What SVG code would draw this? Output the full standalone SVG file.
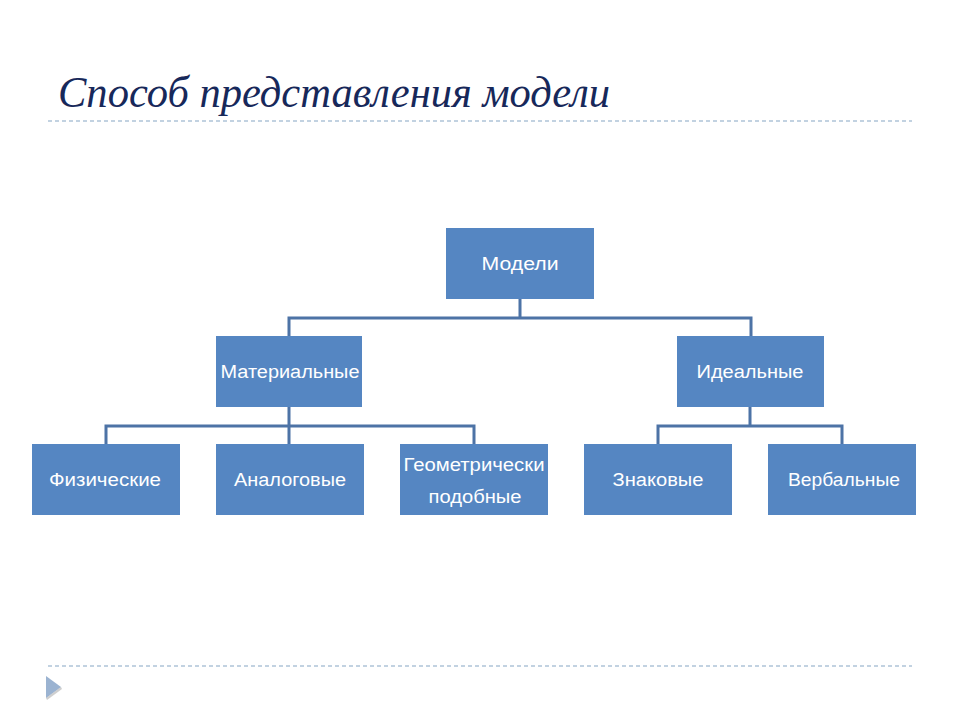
<svg xmlns="http://www.w3.org/2000/svg" width="960" height="720" viewBox="0 0 960 720">
<style>
.title{font-family:"Liberation Serif","DejaVu Serif",serif;font-style:italic;font-size:44px;fill:#17285A}
.box{fill:#5586C2}
.lbl{font-family:"Liberation Sans","DejaVu Sans",sans-serif;font-size:18px;fill:#FFFFFF;text-anchor:middle}
.dash{stroke:#AFC3D8;stroke-width:1.5;stroke-dasharray:4 3;fill:none}
.conn{stroke:#4D73A6;stroke-width:3;fill:none}
</style>
<rect width="960" height="720" fill="#FFFFFF"/>
<text class="title" x="58" y="107" textLength="552" lengthAdjust="spacingAndGlyphs">Способ представления модели</text>
<line class="dash" x1="48" y1="121" x2="912" y2="121"/>
<line class="dash" x1="48" y1="666" x2="912" y2="666"/>
<polygon points="46,676 61,687 46,698" fill="#9BB3D1"/>
<polyline points="46,698 61,687 62,689 47,700" fill="#A0A0A0" opacity="0.5"/>
<g id="connectors">
<path class="conn" d="M520,299 V318 M289,336 V318 H751 V336"/>
<path class="conn" d="M289,407 V444 M106,444 V426 H474 V444"/>
<path class="conn" d="M750,407 V426 M658,444 V426 H842 V444"/>
</g>
<g id="n-modeli"><rect class="box" x="446" y="228" width="148" height="71"/><text class="lbl" x="520" y="270" textLength="77" lengthAdjust="spacingAndGlyphs">Модели</text></g>
<g id="n-material"><rect class="box" x="216" y="336" width="146" height="71"/><text class="lbl" x="290" y="378" textLength="139" lengthAdjust="spacingAndGlyphs">Материальные</text></g>
<g id="n-ideal"><rect class="box" x="677" y="336" width="147" height="71"/><text class="lbl" x="750" y="378" textLength="107" lengthAdjust="spacingAndGlyphs">Идеальные</text></g>
<g id="n-fiz"><rect class="box" x="32" y="444" width="148" height="71"/><text class="lbl" x="105" y="486" textLength="112" lengthAdjust="spacingAndGlyphs">Физические</text></g>
<g id="n-analog"><rect class="box" x="216" y="444" width="148" height="71"/><text class="lbl" x="290" y="486" textLength="112" lengthAdjust="spacingAndGlyphs">Аналоговые</text></g>
<g id="n-geom"><rect class="box" x="400" y="444" width="148" height="71"/><text class="lbl" x="474" y="471" textLength="141" lengthAdjust="spacingAndGlyphs">Геометрически</text><text class="lbl" x="475" y="503" textLength="93" lengthAdjust="spacingAndGlyphs">подобные</text></g>
<g id="n-znak"><rect class="box" x="584" y="444" width="148" height="71"/><text class="lbl" x="658" y="486" textLength="91" lengthAdjust="spacingAndGlyphs">Знаковые</text></g>
<g id="n-verb"><rect class="box" x="768" y="444" width="148" height="71"/><text class="lbl" x="844" y="486" textLength="112" lengthAdjust="spacingAndGlyphs">Вербальные</text></g>
</svg>
